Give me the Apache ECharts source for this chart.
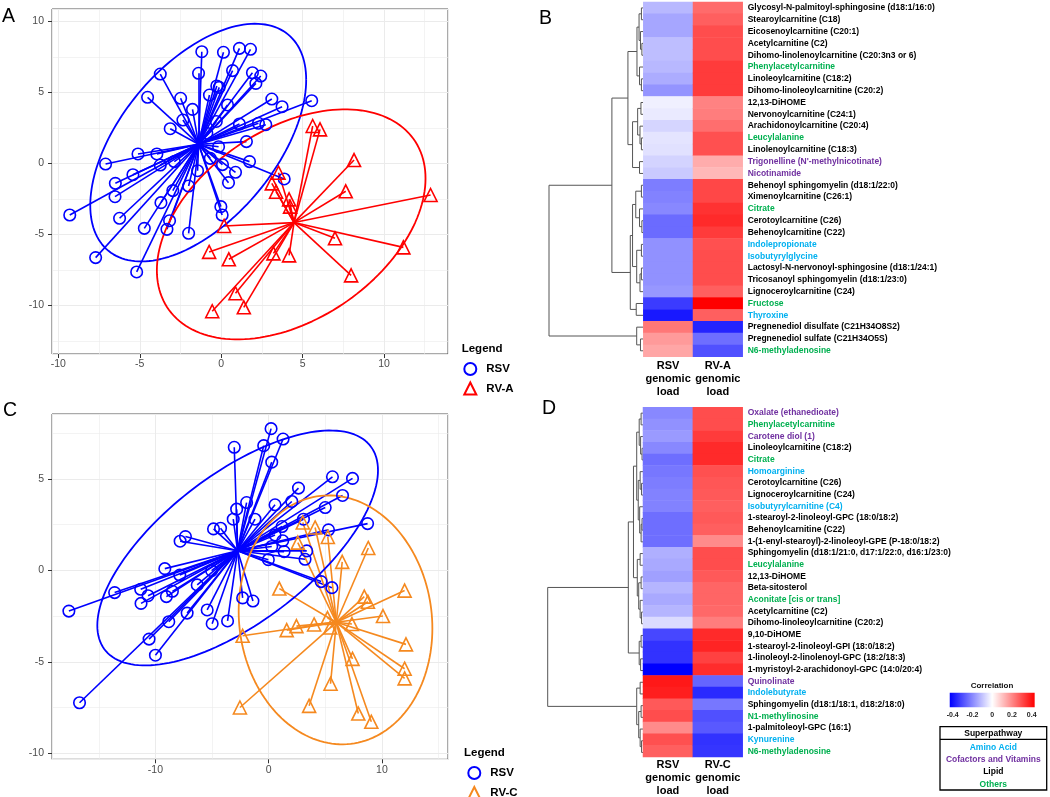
<!DOCTYPE html>
<html><head><meta charset="utf-8">
<script src="https://cdn.jsdelivr.net/npm/echarts@6/dist/echarts.min.js"></script>
<style>html,body{margin:0;padding:0;background:#fff}#c{width:1050px;height:797px}</style>
</head><body><div id="c"></div>
<script>
// ================= DATA =================
// Panel A: RSV vs RV-A ordination scores
const aRsvX = [-1.19,0.14,1.12,1.80,-3.74,-1.39,0.70,1.92,2.43,2.13,-0.27,-0.12,-0.72,-4.52,-2.49,0.39,3.11,5.56,3.74,-1.76,-2.35,-3.13,1.12,2.74,2.29,1.55,-0.16,-5.11,-3.95,-7.10,1.74,0.08,0.88,0.45,3.87,-0.67,-2.88,-3.74,-5.42,-6.50,-1.45,-2.00,-2.97,-6.52,-3.70,-0.02,0.06,-9.30,-6.24,-3.17,-3.33,-4.72,-2.00,-7.71,-5.19,-0.88,-0.30];
const aRsvY = [7.86,7.82,8.10,8.03,6.29,6.34,6.53,6.38,6.15,5.63,5.45,5.35,4.81,4.65,4.58,4.11,4.53,4.41,3.99,3.80,3.05,2.44,2.77,2.72,2.82,1.53,1.17,0.66,0.66,-0.05,0.12,-0.09,-0.63,-1.36,-1.10,0.35,0.12,-0.12,-0.80,-1.41,-0.52,-1.60,-1.92,-2.35,-2.77,-3.05,-3.64,-3.64,-3.87,-4.04,-4.65,-4.58,-4.93,-6.64,-7.65,2.11,2.95];
const aRvaX = [5.62,6.07,8.16,3.52,3.11,3.37,7.65,12.86,4.17,4.23,0.18,-0.74,0.47,3.21,4.17,6.99,11.19,7.98,0.88,1.39,-0.55];
const aRvaY = [2.63,2.39,0.23,-0.66,-1.41,-2.00,-1.97,-2.23,-2.54,-3.05,-4.41,-6.24,-6.76,-6.34,-6.48,-5.28,-5.92,-7.89,-9.15,-10.14,-10.42];
// ellipses: [centerX, centerY, varX, covXY, varY]
const aRsvEllipse = [-1.41, 1.46, 43.96, 29.3, 70.06];
const aRvaEllipse = [4.30, -4.30, 68.06, 26.7, 65.61];
const aXRange = [-10.39, 13.93];
const aYRange = [-13.43, 10.87];

// Panel C: RSV vs RV-C
const cRsvX = [0.21,-3.04,-0.44,1.27,0.27,5.63,7.40,2.63,6.52,2.04,-1.95,0.56,-2.83,4.99,-3.13,-1.21,3.07,-4.87,-4.25,1.18,5.28,8.73,-7.35,-7.82,0.56,1.24,0.27,1.36,3.36,3.21,-0.03,-9.17,-5.04,-7.85,-6.31,5.58,-13.6,-11.3,-10.65,-9.03,-8.50,-11.27,-2.30,-1.39,-17.64,-7.20,-5.43,-8.82,-4.99,-3.63,-10.56,-10.0,-16.7,4.63];
const cRsvY = [7.74,6.72,6.81,7.17,5.91,5.11,5.02,4.49,4.09,3.76,3.70,3.58,3.34,3.43,2.79,2.79,2.79,2.26,2.30,2.39,2.21,2.55,1.84,1.59,1.93,1.61,1.30,1.02,1.06,0.60,0.58,0.09,-0.02,-0.26,-0.80,-0.95,-1.22,-1.04,-1.39,-1.44,-1.15,-1.81,-1.51,-1.68,-2.23,-2.34,-2.17,-2.81,-2.92,-2.77,-3.76,-4.64,-7.24,-0.62];
const cRvcX = [3.01,4.10,5.22,2.57,8.79,6.49,0.94,12.0,8.44,8.76,10.09,5.19,7.35,4.01,2.45,1.59,-2.30,12.12,7.40,12.0,12.0,5.46,3.57,-2.54,7.91,9.06,5.43];
const cRvcY = [2.61,2.34,1.82,1.51,1.22,0.46,-1.00,-1.11,-1.44,-1.72,-2.50,-2.61,-2.94,-2.96,-3.05,-3.27,-3.58,-4.05,-4.84,-5.38,-5.91,-6.20,-7.41,-7.50,-7.83,-8.28,-3.13];
const cRsvEllipse = [-2.74, 1.22, 153.5, 52.5, 41.2];
const cRvcEllipse = [5.90, -2.71, 73.1, -4.0, 46.24];
const cXRange = [-19.13, 15.83];
const cYRange = [-10.33, 8.54];

// Panel B heatmap (correlations)
const bRows = ["Glycosyl-N-palmitoyl-sphingosine (d18:1/16:0)","Stearoylcarnitine (C18)","Eicosenoylcarnitine (C20:1)","Acetylcarnitine (C2)","Dihomo-linolenoylcarnitine (C20:3n3 or 6)","Phenylacetylcarnitine","Linoleoylcarnitine (C18:2)","Dihomo-linoleoylcarnitine (C20:2)","12,13-DiHOME","Nervonoylcarnitine (C24:1)","Arachidonoylcarnitine (C20:4)","Leucylalanine","Linolenoylcarnitine (C18:3)","Trigonelline (N'-methylnicotinate)","Nicotinamide","Behenoyl sphingomyelin (d18:1/22:0)","Ximenoylcarnitine (C26:1)","Citrate","Cerotoylcarnitine (C26)","Behenoylcarnitine (C22)","Indolepropionate","Isobutyrylglycine","Lactosyl-N-nervonoyl-sphingosine (d18:1/24:1)","Tricosanoyl sphingomyelin (d18:1/23:0)","Lignoceroylcarnitine (C24)","Fructose","Thyroxine","Pregnenediol disulfate (C21H34O8S2)","Pregnenediol sulfate (C21H34O5S)","N6-methyladenosine"];
const bPath = ["L","L","L","L","L","O","L","L","L","L","L","O","L","C","C","L","L","O","L","L","A","A","L","L","L","O","A","L","L","O"];
const bRsv = [-0.12,-0.15,-0.15,-0.11,-0.11,-0.12,-0.14,-0.18,-0.025,-0.035,-0.07,-0.045,-0.05,-0.075,-0.09,-0.22,-0.21,-0.20,-0.25,-0.25,-0.185,-0.185,-0.185,-0.185,-0.175,-0.33,-0.39,0.23,0.17,0.15];
const bRva = [0.25,0.27,0.30,0.30,0.30,0.33,0.33,0.33,0.21,0.22,0.245,0.295,0.295,0.14,0.12,0.31,0.31,0.345,0.36,0.33,0.295,0.30,0.30,0.30,0.27,0.43,0.27,-0.37,-0.245,-0.295];
const bCols = ["RSV\ngenomic\nload","RV-A\ngenomic\nload"];
// dendrogram: [height, left, right], leaves = row number
const bTree = [1.0,
  [0.333,
    [0.163,
      [0.067, [0.045,[0.02,1,2],[0.03,3,[0.015,4,5]]], [0.04,6,[0.02,7,8]]],
      [0.114, [0.06,[0.025,9,10],[0.035,11,[0.02,12,13]]], [0.04,14,15]]],
    [0.138,
      [0.114, [0.08,[0.02,16,17],[0.04,18,[0.015,19,20]]], [0.07,[0.02,21,22],[0.035,[0.02,23,24],25]]],
      [0.075,26,27]]],
  [0.07,28,[0.03,29,30]]];

// Panel D heatmap
const dRows = ["Oxalate (ethanedioate)","Phenylacetylcarnitine","Carotene diol (1)","Linoleoylcarnitine (C18:2)","Citrate","Homoarginine","Cerotoylcarnitine (C26)","Lignoceroylcarnitine (C24)","Isobutyrylcarnitine (C4)","1-stearoyl-2-linoleoyl-GPC (18:0/18:2)","Behenoylcarnitine (C22)","1-(1-enyl-stearoyl)-2-linoleoyl-GPE (P-18:0/18:2)","Sphingomyelin (d18:1/21:0, d17:1/22:0, d16:1/23:0)","Leucylalanine","12,13-DiHOME","Beta-sitosterol","Aconitate [cis or trans]","Acetylcarnitine (C2)","Dihomo-linoleoylcarnitine (C20:2)","9,10-DiHOME","1-stearoyl-2-linoleoyl-GPI (18:0/18:2)","1-linoleoyl-2-linolenoyl-GPC (18:2/18:3)","1-myristoyl-2-arachidonoyl-GPC (14:0/20:4)","Quinolinate","Indolebutyrate","Sphingomyelin (d18:1/18:1, d18:2/18:0)","N1-methylinosine","1-palmitoleoyl-GPC (16:1)","Kynurenine","N6-methyladenosine"];
const dPath = ["C","O","C","L","O","A","L","L","A","L","L","L","L","O","L","L","O","L","L","L","L","L","L","C","A","L","O","L","A","O"];
const dRsv = [-0.20,-0.185,-0.17,-0.20,-0.245,-0.23,-0.22,-0.21,-0.21,-0.245,-0.245,-0.245,-0.135,-0.145,-0.16,-0.125,-0.145,-0.125,-0.06,-0.31,-0.345,-0.345,-0.43,0.39,0.38,0.28,0.30,0.195,0.295,0.27];
const dRvc = [0.30,0.30,0.33,0.36,0.36,0.295,0.285,0.28,0.27,0.28,0.27,0.195,0.30,0.30,0.28,0.26,0.26,0.255,0.22,0.36,0.37,0.32,0.355,-0.26,-0.36,-0.23,-0.295,-0.28,-0.345,-0.34];
const dCols = ["RSV\ngenomic\nload","RV-C\ngenomic\nload"];
const dTree = [1.0,
  [0.154,
    [0.10,
      [0.066, [0.04,[0.02,1,2],[0.025,3,[0.01,4,5]]], [0.05,[0.03,6,[0.015,7,8]],[0.035,9,[0.02,[0.01,10,11],12]]]],
      [0.06, [0.03,13,14], [0.045,[0.02,15,16],[0.03,17,[0.015,18,19]]]]],
    [0.04,[0.02,20,21],[0.025,22,23]]],
  [0.066,[0.03,24,25],[0.045,[0.02,26,27],[0.03,28,[0.015,29,30]]]]];

const colorRange = [-0.43, 0.43];
const colorTickRange = [-0.4, 0.4, 0.2];
const pathwayNames = {A:"Amino Acid", C:"Cofactors and Vitamins", L:"Lipid", O:"Others"};
const pathwayOrder = ["A","C","L","O"];

// ================= HELPERS =================
const FONT = "'Liberation Sans', Arial, Helvetica, sans-serif";
const pathwayColors = {A:'#00B0F0', C:'#7030A0', L:'#000000', O:'#00B050'};
const BLUE = '#0000FF', RED = '#FF0000', ORANGE = '#F5891F';

function mean(a){ return a.reduce((s,v)=>s+v,0)/a.length; }
function ellipsePts(p){
  const [cx,cy,vxx,vxy,vyy] = p;
  const a = Math.sqrt(vxx), b = vxy/a, d = Math.sqrt(vyy-b*b);
  const pts = [];
  for (let i=0;i<=160;i++){ const t = 2*Math.PI*i/160; pts.push([cx+a*Math.cos(t), cy+b*Math.cos(t)+d*Math.sin(t)]); }
  return pts;
}
function spider(xs, ys){
  const mx = mean(xs), my = mean(ys);
  return xs.map((x,i)=>({coords:[[mx,my],[x,ys[i]]]}));
}
function pts(xs, ys){ return xs.map((x,i)=>[x, ys[i]]); }
function treeSegs(node){
  if (typeof node === 'number') return {y: node, h: 0, segs: []};
  const [h,l,r] = node;
  const L = treeSegs(l), R = treeSegs(r);
  const segs = L.segs.concat(R.segs);
  segs.push({coords:[[L.h,L.y],[h,L.y],[h,R.y],[R.h,R.y]]});
  return {y:(L.y+R.y)/2, h, segs};
}
function heatData(c0, c1){
  const out = [];
  c0.forEach((v,i)=>out.push([0,i,v]));
  c1.forEach((v,i)=>out.push([1,i,v]));
  return out;
}

function mainAxis(dim, grid, range, step, margin){
  return {type:'value', gridIndex:grid, min:range[0], max:range[1], minInterval:step, maxInterval:step,
    position: dim==='x' ? 'bottom' : 'left',
    axisLine:{show:false, onZero:false},
    axisTick:{show:true, length:4, lineStyle:{color:'#333', width:1}},
    axisLabel:{color:'#4D4D4D', fontSize:10.5, fontFamily:FONT, margin:margin, showMinLabel:false, showMaxLabel:false},
    splitLine:{show:true, lineStyle:{color:'#EBEBEB', width:1}}};
}
function minorAxis(dim, grid, range, step){
  return {type:'value', gridIndex:grid, min:range[0], max:range[1], minInterval:step, maxInterval:step,
    position: dim==='x' ? 'bottom' : 'left',
    axisLine:{show:false, onZero:false}, axisTick:{show:false}, axisLabel:{show:false},
    splitLine:{show:true, lineStyle:{color:'#EBEBEB', width:0.6}}};
}
function hidden(grid, min, max, inverse){
  return {type:'value', gridIndex:grid, min, max, inverse:!!inverse, show:false,
    axisLine:{show:false, onZero:false}, axisTick:{show:false}, axisLabel:{show:false}, splitLine:{show:false}};
}
function heatX(grid, cols, margin){
  return {type:'category', gridIndex:grid, data:cols, position:'bottom',
    axisLine:{show:false}, axisTick:{show:false}, splitLine:{show:false},
    axisLabel:{interval:0, fontSize:11, fontWeight:'bold', color:'#000', lineHeight:13, margin:margin, fontFamily:FONT}};
}
function heatY(grid, rows, paths){
  const map = {}; rows.forEach((r,i)=>map[r]=paths[i]);
  return {type:'category', gridIndex:grid, data:rows, inverse:true, position:'right',
    axisLine:{show:false}, axisTick:{show:false}, splitLine:{show:false},
    axisLabel:{interval:0, fontSize:8.5, fontWeight:'bold', margin:5, fontFamily:FONT,
      color:(v)=>pathwayColors[map[v]] || '#000'}};
}

// ================= OPTION =================
const grids = [
  {left:52, top:9, width:396, height:345, show:true, borderColor:'#555', borderWidth:1, backgroundColor:'#fff'},   // 0 A
  {left:52, top:414, width:396, height:345.3, show:true, borderColor:'#555', borderWidth:1, backgroundColor:'#fff'},// 1 C
  {left:549, top:2, width:94.3, height:354.7},   // 2 B dendro
  {left:643.3, top:2, width:99.4, height:354.7}, // 3 B heat
  {left:547.7, top:407.3, width:95.3, height:351},// 4 D dendro
  {left:643, top:407.3, width:99.7, height:351}, // 5 D heat
  {left:952.7, top:692.7, width:79, height:14.6}  // 6 colorbar
];

const xAxes = [
  mainAxis('x',0,aXRange,5,5), minorAxis('x',0,aXRange,2.5),
  mainAxis('x',1,cXRange,10,5.5), minorAxis('x',1,cXRange,5),
  hidden(2,0,1,true), heatX(3,bCols,3),
  hidden(4,0,1,true), heatX(5,dCols,1),
  {type:'value', gridIndex:6, min:colorTickRange[0], max:colorTickRange[1], interval:colorTickRange[2],
    axisLine:{show:false, onZero:false}, axisTick:{show:false}, splitLine:{show:false},
    axisLabel:{fontSize:7, fontWeight:'bold', color:'#222', margin:4, fontFamily:FONT}}
];
const yAxes = [
  mainAxis('y',0,aYRange,5,8), minorAxis('y',0,aYRange,2.5),
  mainAxis('y',1,cYRange,5,8), minorAxis('y',1,cYRange,2.5),
  hidden(2,0.5,30.5,true), heatY(3,bRows,bPath),
  hidden(4,0.5,30.5,true), heatY(5,dRows,dPath),
  hidden(6,0,1,false)
];

const series = [];
function addScatterPanel(ax, xs, ys, ell, color, name, symbol, size){
  series.push({type:'lines', coordinateSystem:'cartesian2d', xAxisIndex:ax, yAxisIndex:ax, silent:true,
    data: spider(xs, ys), lineStyle:{color:color, width:1.6, opacity:1}, z:2});
  series.push({type:'line', name:name+'-ellipse', xAxisIndex:ax, yAxisIndex:ax, silent:true, showSymbol:false,
    data: ellipsePts(ell), lineStyle:{color:color, width:1.8}, z:2, animation:false});
  series.push({type:'scatter', name:name, xAxisIndex:ax, yAxisIndex:ax, symbol:symbol, symbolSize:size,
    data: pts(xs, ys), itemStyle:{color:'rgba(255,255,255,0)', borderColor:color, borderWidth:1.6, opacity:1}, z:3});
}
addScatterPanel(0, aRsvX, aRsvY, aRsvEllipse, BLUE, 'RSV', 'circle', 11.5);
addScatterPanel(0, aRvaX, aRvaY, aRvaEllipse, RED, 'RV-A', 'triangle', 13);
addScatterPanel(2, cRsvX, cRsvY, cRsvEllipse, BLUE, 'RSV', 'circle', 11.5);
addScatterPanel(2, cRvcX, cRvcY, cRvcEllipse, ORANGE, 'RV-C', 'triangle', 13);

series.push({type:'lines', coordinateSystem:'cartesian2d', xAxisIndex:4, yAxisIndex:4, polyline:true, silent:true,
  data: treeSegs(bTree).segs, lineStyle:{color:'#555', width:1, opacity:1}});
const hB = series.length;
series.push({type:'heatmap', xAxisIndex:5, yAxisIndex:5, data: heatData(bRsv, bRva), silent:true, emphasis:{disabled:true}});
series.push({type:'lines', coordinateSystem:'cartesian2d', xAxisIndex:6, yAxisIndex:6, polyline:true, silent:true,
  data: treeSegs(dTree).segs, lineStyle:{color:'#555', width:1, opacity:1}});
const hD = series.length;
series.push({type:'heatmap', xAxisIndex:7, yAxisIndex:7, data: heatData(dRsv, dRvc), silent:true, emphasis:{disabled:true}});
series.push({type:'custom', xAxisIndex:8, yAxisIndex:8, clip:false, silent:true,
  data:[[colorRange[0], colorRange[1]]],
  renderItem:(params, api)=>{
    const p0 = api.coord([api.value(0), 1]);
    const p1 = api.coord([api.value(1), 0]);
    return {type:'rect', shape:{x:p0[0], y:p0[1], width:p1[0]-p0[0], height:p1[1]-p0[1]},
      style:{fill:new echarts.graphic.LinearGradient(0,0,1,0,[{offset:0,color:BLUE},{offset:0.5,color:'#FFFFFF'},{offset:1,color:RED}])}};
  }});

function txt(x, y, text, size, weight, color, align){
  return {type:'text', x:x, y:y, silent:true, style:{text:text, fontSize:size, fontWeight:weight||'normal', fontFamily:FONT,
    fill:color||'#000', align:align||'left', verticalAlign:'middle', textAlign:align||'left', textVerticalAlign:'middle'}};
}
const graphic = [
  txt(2, 17, 'A', 19.5), txt(539, 18.5, 'B', 19.5), txt(3, 411, 'C', 19.5), txt(542, 409, 'D', 19.5),
  txt(461.7, 349, 'Legend', 11.5, 'bold'), txt(464, 752.7, 'Legend', 11.5, 'bold'),
  txt(992, 686, 'Correlation', 8, 'bold', '#111', 'center'),
  {type:'rect', shape:{x:940, y:726.7, width:106.7, height:63.3}, style:{fill:'none', stroke:'#000', lineWidth:1.3}, silent:true},
  {type:'line', shape:{x1:940, y1:739.3, x2:1046.7, y2:739.3}, style:{stroke:'#000', lineWidth:1.3}, silent:true},
  txt(993.3, 733.2, 'Superpathway', 8.5, 'bold', '#000', 'center')
];
pathwayOrder.forEach((k,i)=>{
  graphic.push(txt(993.3, [747.7,759.8,772,784.6][i], pathwayNames[k], 8.5, 'bold', pathwayColors[k], 'center'));
});

const legendStyle = {orient:'vertical', itemWidth:12, itemHeight:12, selectedMode:false, padding:0, height:60,
  textStyle:{fontSize:11.5, fontWeight:'bold', color:'#000', fontFamily:FONT, lineHeight:12, padding:[0,0,0,5]}};
const option = {
  animation:false,
  backgroundColor:'#fff',
  textStyle:{fontFamily:FONT},
  grid: grids,
  xAxis: xAxes,
  yAxis: yAxes,
  visualMap: [{type:'continuous', show:false, min:colorRange[0], max:colorRange[1], dimension:2,
    seriesIndex:[hB, hD], inRange:{color:[BLUE,'#FFFFFF',RED]}}],
  legend: [
    Object.assign({left:463.3, top:362, itemGap:5.5, data:[{name:'RSV', icon:'circle'},{name:'RV-A', icon:'triangle'}]}, legendStyle),
    Object.assign({left:467.3, top:766, itemGap:6, data:[{name:'RSV', icon:'circle'},{name:'RV-C', icon:'triangle'}]}, legendStyle)
  ],
  series: series,
  graphic: graphic
};
const chart = echarts.init(document.getElementById('c'));
chart.setOption(option);
</script>
</body></html>
